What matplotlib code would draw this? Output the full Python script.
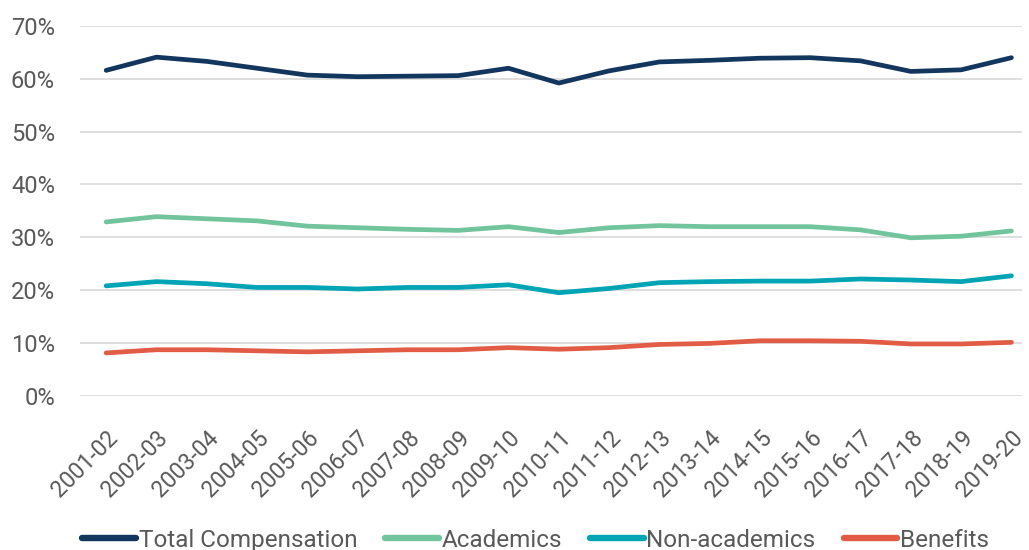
import matplotlib
matplotlib.use("Agg")
import matplotlib.pyplot as plt
from matplotlib.ticker import FuncFormatter

plt.rcParams['font.family'] = ['Roboto', 'DejaVu Sans']

years = ['2001-02', '2002-03', '2003-04', '2004-05', '2005-06', '2006-07', '2007-08',
         '2008-09', '2009-10', '2010-11', '2011-12', '2012-13', '2013-14', '2014-15',
         '2015-16', '2016-17', '2017-18', '2018-19', '2019-20']

total_comp = [61.6, 64.1, 63.3, 62.0, 60.7, 60.4, 60.5, 60.6, 62.0, 59.2,
              61.5, 63.2, 63.5, 63.9, 64.0, 63.4, 61.4, 61.7, 64.0]
academics = [32.9, 33.9, 33.5, 33.1, 32.1, 31.8, 31.5, 31.3, 32.0, 30.9,
             31.8, 32.2, 32.0, 32.0, 32.0, 31.4, 29.9, 30.2, 31.2]
non_academics = [20.8, 21.6, 21.2, 20.5, 20.5, 20.2, 20.5, 20.5, 21.0, 19.5,
                 20.3, 21.4, 21.6, 21.7, 21.7, 22.1, 21.9, 21.6, 22.7]
benefits = [8.1, 8.7, 8.7, 8.5, 8.3, 8.5, 8.7, 8.7, 9.1, 8.8,
            9.1, 9.7, 9.9, 10.4, 10.4, 10.3, 9.8, 9.8, 10.1]

series_names = ['Total Compensation', 'Academics', 'Non-academics', 'Benefits']
colors = ['#13365e', '#72c49c', '#00a4b4', '#e15b45']

fig = plt.figure(figsize=(10.29, 5.5), dpi=100)
ax = fig.add_axes([80/1029, (550-395.7)/550, (1022-80)/1029, (395.7-26)/550])

x = list(range(len(years)))
for vals, name, c in zip([total_comp, academics, non_academics, benefits], series_names, colors):
    ax.plot(x, vals, color=c, lw=3.4, label=name, solid_capstyle='round', solid_joinstyle='round')

ax.set_ylim(0, 70)
ax.set_xlim(-0.52, 18.21)
ax.set_yticks(range(0, 71, 10))
ax.yaxis.set_major_formatter(FuncFormatter(lambda v, p: f'{int(v)}%'))
ax.grid(axis='y', color='#d9d9d9', lw=1.2)
ax.set_axisbelow(True)
for s in ax.spines.values():
    s.set_visible(False)
ax.tick_params(axis='both', length=0, labelsize=16.5, colors='#595959')
ax.tick_params(axis='y', labelsize=17, pad=18)
ax.set_xticks(x)
ax.set_xticklabels(years, rotation=45, ha='right', rotation_mode='anchor')
ax.tick_params(axis='x', pad=22)

leg = fig.legend(loc='center', bbox_to_anchor=(0.5205, 0.018), ncol=4, frameon=False,
                 fontsize=17.5, handlelength=2.2, handletextpad=0.12, columnspacing=1.15,
                 labelcolor='#595959')
for h in leg.get_lines():
    h.set_linewidth(4.6)

fig.savefig('out.png', dpi=100)
